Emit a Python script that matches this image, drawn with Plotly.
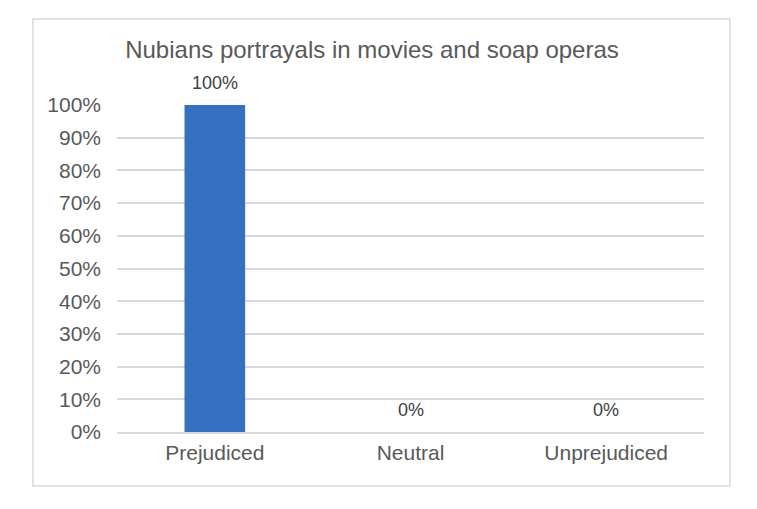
import plotly.graph_objects as go

categories = ["Prejudiced", "Neutral", "Unprejudiced"]
values = [1.0, 0.0, 0.0]
title_text = "Nubians portrayals in movies and soap operas"

W, H = 757, 509
L, R, T, B = 117, 53, 105, 77
pw = W - L - R
ph = H - T - B

fig = go.Figure(go.Bar(
    x=categories, y=values,
    marker=dict(color="#3570C1", line=dict(width=0)),
    cliponaxis=False,
    hoverinfo="skip",
))

for c, v in zip(categories, values):
    fig.add_annotation(x=c, y=v, text=f"{v:.0%}", showarrow=False,
                       yanchor="middle", yshift=22,
                       font=dict(size=18, color="#404040"))

fig.update_layout(
    width=W, height=H,
    margin=dict(l=L, r=R, t=T, b=B),
    paper_bgcolor="white", plot_bgcolor="white",
    font=dict(family="Liberation Sans, Arial, sans-serif", color="#595959"),
    title=dict(text=title_text, x=372 / W, xanchor="center", xref="container",
               y=1 - 50 / H, yanchor="middle", yref="container",
               font=dict(size=24, color="#595959")),
    bargap=0.69,
    showlegend=False,
)
fig.update_yaxes(range=[0, 1], dtick=0.1, tickformat=".0%",
                 showgrid=True, gridcolor="#D9D9D9", gridwidth=1.5,
                 zeroline=False, showline=False, ticks="",
                 ticklabelstandoff=15,
                 tickfont=dict(size=21, color="#595959"))
fig.update_xaxes(showline=True, linecolor="#D9D9D9", linewidth=1.5, ticks="",
                 ticklabelstandoff=1,
                 tickfont=dict(size=21, color="#595959"))

fig.add_shape(type="rect", xref="paper", yref="paper",
              x0=(33 - L) / pw, x1=(730 - L) / pw,
              y0=(H - B - 486) / ph, y1=(H - B - 19) / ph,
              line=dict(color="#D9D9D9", width=1.5), fillcolor="rgba(0,0,0,0)",
              layer="below")

fig.write_html("out.html", config={"displayModeBar": False},
               post_script="document.body.style.margin='0';document.body.style.overflow='hidden';")
